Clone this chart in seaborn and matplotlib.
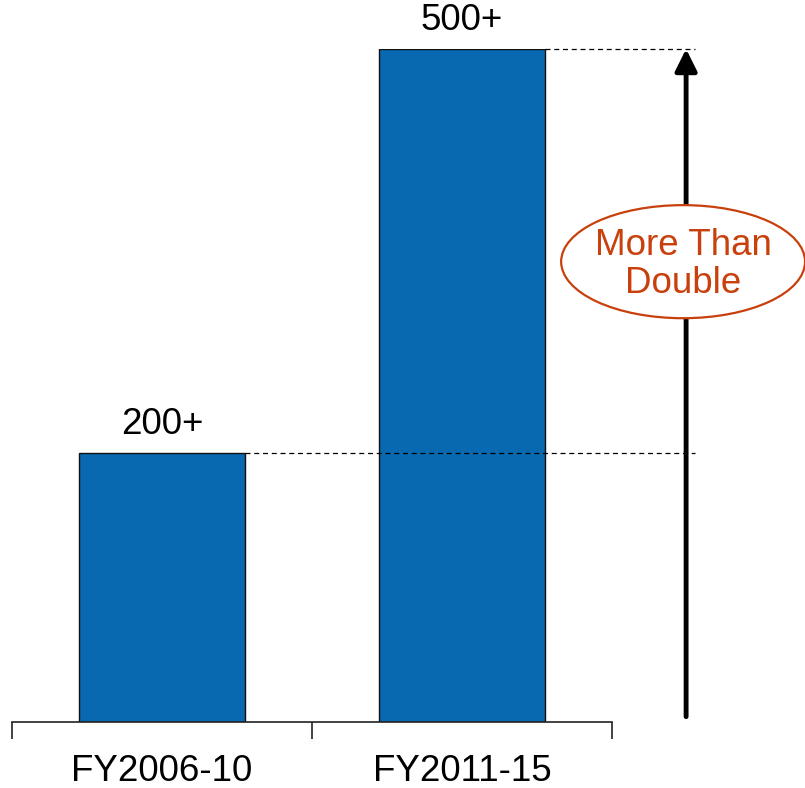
import matplotlib
matplotlib.use("Agg")
import matplotlib.pyplot as plt
from matplotlib.patches import Ellipse
import numpy as np
import pandas as pd
import seaborn as sns

# Data
periods = ["FY2006-10", "FY2011-15"]
counts = [200, 500]
count_labels = ["200+", "500+"]
callout_text = "More Than\nDouble"

BAR_COLOR = "#0869b0"
CALLOUT_COLOR = "#c8400c"

sns.set_theme(style="white")
plt.rcParams["font.family"] = ["Liberation Sans", "DejaVu Sans"]

df = pd.DataFrame({"period": periods, "count": counts})

fig = plt.figure(figsize=(8.05, 7.88), dpi=100)
ax = fig.add_axes([12 / 805, 66 / 788, 600 / 805, 673 / 788])

bar_width = 0.553
sns.barplot(data=df, x="period", y="count", color=BAR_COLOR, width=bar_width,
            edgecolor="#111111", linewidth=1.0, saturation=1, ax=ax)

ax.set_xlim(-0.5, 1.5)
ax.set_ylim(0, 500)
ax.set_xlabel("")
ax.set_ylabel("")
ax.set_yticks([])

# spines: only the bottom axis line
for side in ["top", "left", "right"]:
    ax.spines[side].set_visible(False)
ax.spines["bottom"].set_color("#222222")
ax.spines["bottom"].set_linewidth(1.2)

# category labels centred, tick marks on category boundaries
ax.set_xticks(range(len(periods)))
ax.set_xticklabels(periods, fontsize=26.5, color="black")
ax.tick_params(axis="x", which="major", length=0, pad=23)
ax.set_xticks(np.arange(-0.5, len(periods)), minor=True)
ax.tick_params(axis="x", which="minor", length=12, width=1.2, color="#222222",
               direction="out", bottom=True)

# value labels above bars
for i, (v, lab) in enumerate(zip(counts, count_labels)):
    ax.text(i, v + 8, lab, ha="center", va="bottom", fontsize=26.5, color="black",
            clip_on=False)

# dashed reference lines from bar tops to the arrow
x_end = 1.777
for i, v in enumerate(counts):
    ax.plot([i + bar_width / 2, x_end], [v, v], color="black", lw=0.9,
            ls=(0, (4, 3)), clip_on=False)

# growth arrow
arrow_x = 1.747
ax.annotate("", xy=(arrow_x, counts[1]), xytext=(arrow_x, 4),
            arrowprops=dict(arrowstyle="-|>,head_length=1.1,head_width=0.55",
                            lw=3.5, color="black", shrinkA=0, shrinkB=0),
            annotation_clip=False)

# callout ellipse with text
ell = Ellipse((1.737, 342), width=0.813, height=84, facecolor="white",
              edgecolor=CALLOUT_COLOR, lw=1.6, clip_on=False, zorder=5)
ax.add_patch(ell)
ax.text(1.737, 340, callout_text, ha="center", va="center", fontsize=26.5,
        color=CALLOUT_COLOR, linespacing=1.12, zorder=6, clip_on=False)

fig.savefig("out.png", dpi=100)
plt.close(fig)
